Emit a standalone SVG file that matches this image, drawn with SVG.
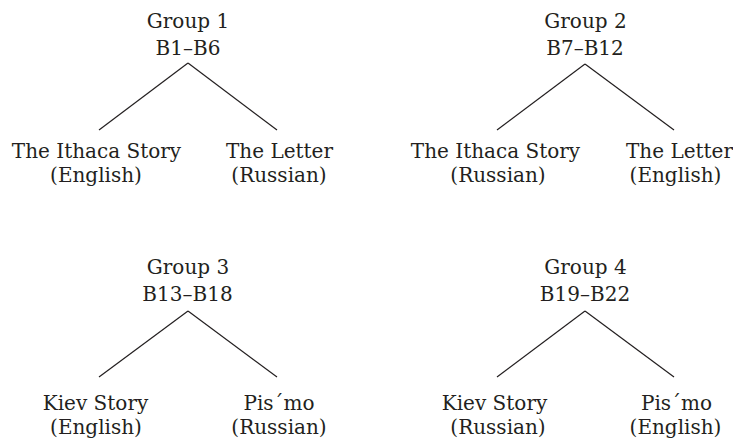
<svg xmlns="http://www.w3.org/2000/svg" width="733" height="439" viewBox="0 0 733 439">
<style>
text{font-family:"DejaVu Serif","Liberation Serif",serif;font-size:20px;fill:#231f20;text-anchor:middle}
.c line{stroke:#231f20;stroke-width:1.2;fill:none}
</style>
<rect width="733" height="439" fill="#fff"/>
<g id="group1"><text x="188" y="27.5">Group 1</text><text x="188" y="54.5">B1–B6</text></g>
<g id="g1-ithaca"><text x="96.5" y="158">The Ithaca Story</text><text x="96" y="182">(English)</text></g>
<g id="g1-letter"><text x="279.5" y="158">The Letter</text><text x="279" y="182">(Russian)</text></g>
<g id="group2"><text x="585.5" y="27.5">Group 2</text><text x="585" y="54.5">B7–B12</text></g>
<g id="g2-ithaca"><text x="495.5" y="158">The Ithaca Story</text><text x="498" y="182">(Russian)</text></g>
<g id="g2-letter"><text x="679.5" y="158">The Letter</text><text x="675.5" y="182">(English)</text></g>
<g id="group3"><text x="188" y="274">Group 3</text><text x="187.5" y="301">B13–B18</text></g>
<g id="g3-kiev"><text x="95.5" y="410">Kiev Story</text><text x="96" y="434">(English)</text></g>
<g id="g3-pismo"><text x="279" y="410">Pis´mo</text><text x="279" y="434">(Russian)</text></g>
<g id="group4"><text x="585.5" y="274">Group 4</text><text x="585" y="301">B19–B22</text></g>
<g id="g4-kiev"><text x="494.5" y="410">Kiev Story</text><text x="498" y="434">(Russian)</text></g>
<g id="g4-pismo"><text x="676.5" y="410">Pis´mo</text><text x="675.5" y="434">(English)</text></g>
<g id="connectors" class="c">
<line x1="188" y1="63" x2="99" y2="130"/><line x1="188" y1="63" x2="277" y2="130"/>
<line x1="585" y1="64" x2="497" y2="130"/><line x1="585" y1="64" x2="674" y2="130"/>
<line x1="188" y1="311" x2="99" y2="377"/><line x1="188" y1="311" x2="277" y2="377"/>
<line x1="585" y1="311" x2="497" y2="377"/><line x1="585" y1="311" x2="674" y2="377"/>
</g>
</svg>
